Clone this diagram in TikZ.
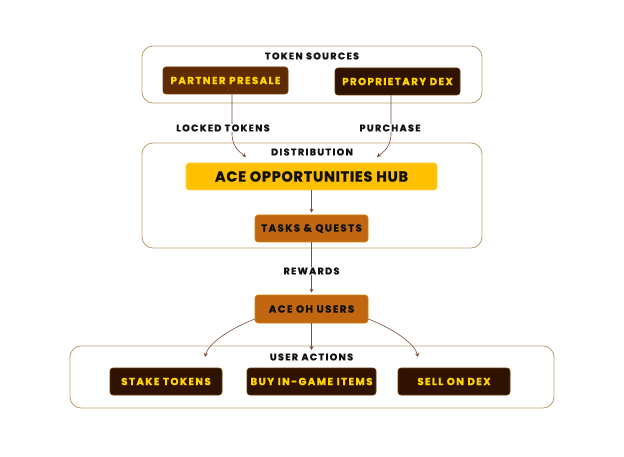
\documentclass[tikz,border=0pt]{standalone}
\usepackage{fontspec}
\usetikzlibrary{arrows.meta,positioning}
\newfontfamily\acefont{Poppins}[LetterSpace=14, BoldFeatures={FakeBold=1.2}]
\newfontfamily\hubfont{Poppins}[LetterSpace=5, BoldFeatures={FakeBold=1.2}]

\definecolor{framec}{RGB}{190,165,120}
\definecolor{arrowc}{RGB}{120,75,60}
\definecolor{goldtxt}{RGB}{255,212,0}
\definecolor{presalec}{RGB}{94,44,0}
\definecolor{dexc}{RGB}{47,19,0}
\definecolor{hubc}{RGB}{255,192,0}
\definecolor{questc}{RGB}{192,103,15}
\definecolor{inkc}{RGB}{17,17,17}

\tikzset{
  group/.style={draw=framec, line width=0.9pt, rounded corners=11pt},
  grouptitle/.style={text=inkc, font=\acefont\bfseries\fontsize{9.6}{10}\selectfont},
  flowlabel/.style={grouptitle, fill=white, inner sep=1pt},
  darkbox/.style={rounded corners=3pt, minimum height=27pt, inner sep=0pt,
    fill=dexc, draw=dexc!60!questc, line width=0.6pt, text=goldtxt,
    font=\acefont\bfseries\fontsize{10.2}{11}\selectfont},
  questbox/.style={darkbox, fill=questc, draw=questc!70!hubc, text=inkc},
  flow/.style={draw=arrowc, line width=0.6pt, -{Stealth[length=4pt,width=4pt]}}
}

\begin{document}
\begin{tikzpicture}[x=1pt, y=-1pt]
\useasboundingbox (0,0) rectangle (624,457);

% token sources
\draw[group] (142,46) rectangle (482,103);
\node[grouptitle] (srctitle) at (312,56) {TOKEN SOURCES};
\node[darkbox, fill=presalec, draw=presalec!70!questc, minimum width=125pt] (presale) at (225.5,80.5) {PARTNER PRESALE};
\node[darkbox, minimum width=125pt] (dex) at (397.5,81.5) {PROPRIETARY DEX};

% distribution
\draw[group] (142,143) rectangle (482,248);
\node[grouptitle] (distitle) at (312,152) {DISTRIBUTION};
\node[darkbox, fill=hubc, draw=hubc!70!white, text=inkc, minimum width=251pt,
  font=\hubfont\bfseries\fontsize{14.5}{15}\selectfont] (hub) at (311.5,176.5) {ACE OPPORTUNITIES HUB};
\node[questbox, minimum width=113pt] (tasks) at (311.5,228.5) {TASKS \& QUESTS};

\node[questbox, minimum width=113pt, minimum height=28pt] (users) at (311.5,309) {ACE OH USERS};

% user actions
\draw[group] (70,346) rectangle (554,408);
\node[grouptitle] (acttitle) at (311.5,357) {USER ACTIONS};
\node[darkbox, minimum width=112pt] (stake) at (166,381.5) {STAKE TOKENS};
\node[darkbox, minimum width=129pt] (buy) at (311.5,381.5) {BUY IN-GAME ITEMS};
\node[darkbox, minimum width=112pt] (sell) at (454,381.5) {SELL ON DEX};

\coordinate (lockin) at (246,157);
\coordinate (buyin) at (377,157);
\coordinate (actl) at (205,357);
\coordinate (actm) at (311.5,350);
\coordinate (actr) at (418,357);

% connectors
\draw[flow] ([xshift=6.5pt]presale.south) -- ++(0,41) .. controls +(1,13) and +(-6,-5) .. (lockin);
\draw[flow] ([xshift=-6.5pt]dex.south) -- ++(0,40) .. controls +(-1,13) and +(6,-5) .. (buyin);
\draw[flow] (hub.south) -- ([yshift=2pt]tasks.north);
\draw[flow] (tasks.south) -- ([yshift=2pt]users.north);
\draw[flow] ([yshift=-10pt]users.west) .. controls +(-30,12) and +(3,-12) .. (actl);
\draw[flow] (users.south) -- (actm);
\draw[flow] ([yshift=-10pt]users.east) .. controls +(30,12) and +(-3,-12) .. (actr);

\node[flowlabel] (locklbl) at (223,128) {LOCKED TOKENS};
\node[flowlabel] (buylbl) at (390,128) {PURCHASE};
\node[flowlabel] (rewlbl) at (311.5,271) {REWARDS};
\end{tikzpicture}
\end{document}
